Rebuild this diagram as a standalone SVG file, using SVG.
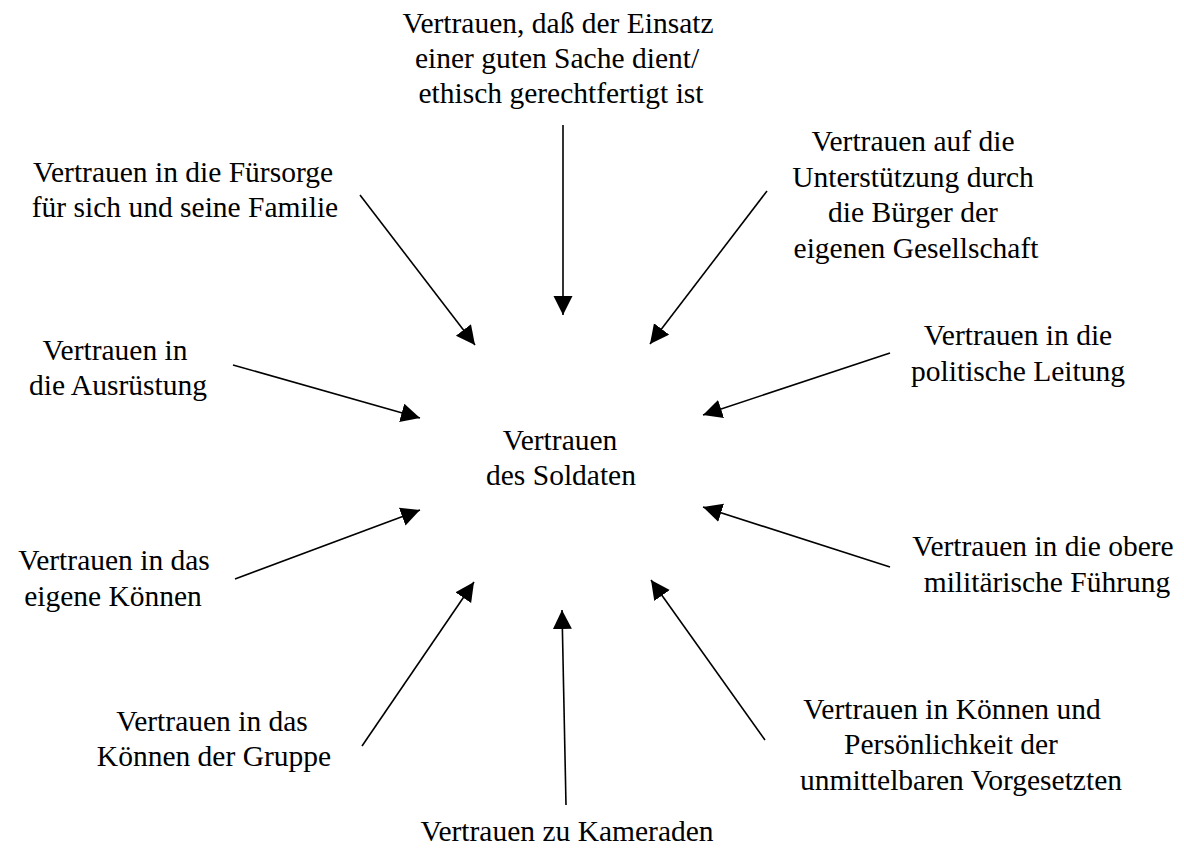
<svg xmlns="http://www.w3.org/2000/svg" width="1184" height="848" viewBox="0 0 1184 848">
<style>
text { font-family: "Liberation Serif", "Times New Roman", serif; font-size: 29.5px; fill: #000; text-anchor: middle; }
.conn line { stroke: #000; stroke-width: 1.6; fill: none; marker-end: url(#ah); }
</style>
<defs>
<marker id="ah" markerUnits="userSpaceOnUse" markerWidth="20" markerHeight="20" refX="19" refY="9.5" orient="auto">
<path d="M0,0 L19,9.5 L0,19 z" fill="#000"/>
</marker>
</defs>
<rect width="1184" height="848" fill="#fff"/>
<g id="center">
<text x="560" y="450">Vertrauen</text>
<text x="561" y="485">des Soldaten</text>
</g>
<g id="n-einsatz">
<text x="558" y="33">Vertrauen, daß der Einsatz</text>
<text x="557" y="68">einer guten Sache dient/</text>
<text x="561" y="103">ethisch gerechtfertigt ist</text>
</g>
<g id="n-fuersorge">
<text x="183" y="182">Vertrauen in die Fürsorge</text>
<text x="185" y="217">für sich und seine Familie</text>
</g>
<g id="n-buerger">
<text x="913" y="151">Vertrauen auf die</text>
<text x="913" y="187">Unterstützung durch</text>
<text x="913" y="222">die Bürger der</text>
<text x="916" y="258">eigenen Gesellschaft</text>
</g>
<g id="n-ausruestung">
<text x="115" y="360">Vertrauen in</text>
<text x="118" y="395">die Ausrüstung</text>
</g>
<g id="n-politik">
<text x="1018" y="345">Vertrauen in die</text>
<text x="1018" y="381">politische Leitung</text>
</g>
<g id="n-koennen">
<text x="114" y="570">Vertrauen in das</text>
<text x="113" y="606">eigene Können</text>
</g>
<g id="n-fuehrung">
<text x="1043" y="556">Vertrauen in die obere</text>
<text x="1047" y="592">militärische Führung</text>
</g>
<g id="n-gruppe">
<text x="212" y="731">Vertrauen in das</text>
<text x="214" y="766">Können der Gruppe</text>
</g>
<g id="n-vorgesetzte">
<text x="952" y="719">Vertrauen in Können und</text>
<text x="951" y="754">Persönlichkeit der</text>
<text x="961" y="790">unmittelbaren Vorgesetzten</text>
</g>
<g id="n-kameraden">
<text x="567" y="841">Vertrauen zu Kameraden</text>
</g>
<g id="connectors" class="conn">
<line x1="563" y1="125" x2="563" y2="315"/>
<line x1="360" y1="195" x2="475" y2="345"/>
<line x1="767" y1="191" x2="650" y2="344"/>
<line x1="233" y1="365" x2="420" y2="418"/>
<line x1="890" y1="353" x2="703" y2="415"/>
<line x1="235" y1="579" x2="420" y2="510"/>
<line x1="890" y1="567" x2="703" y2="507"/>
<line x1="362" y1="746" x2="474" y2="582"/>
<line x1="765" y1="740" x2="651" y2="580"/>
<line x1="566" y1="805" x2="562" y2="610"/>
</g>
</svg>
